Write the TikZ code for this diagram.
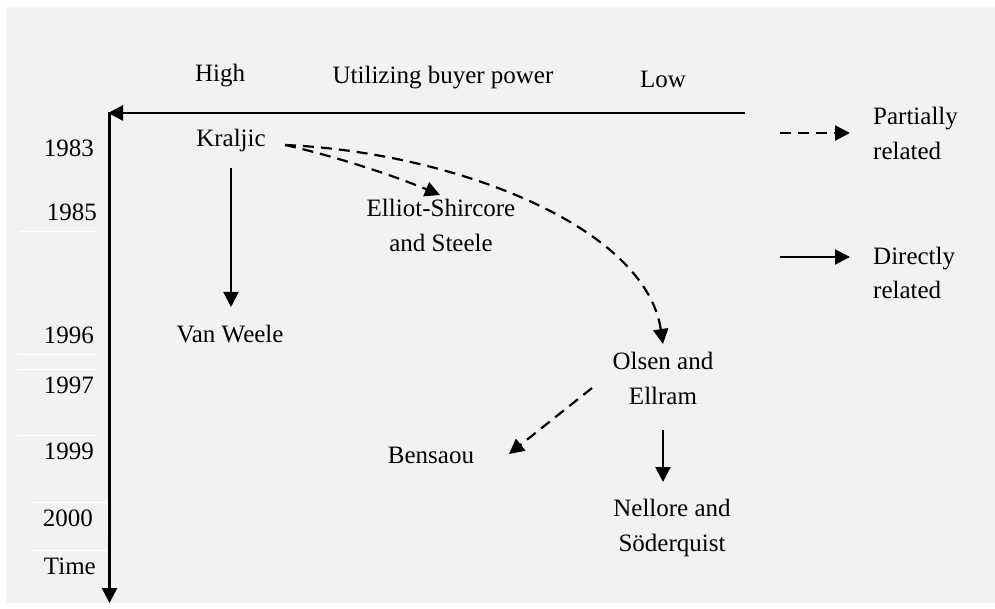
\documentclass[tikz,border=0pt]{standalone}
\usepackage{fontspec}
\setmainfont{Liberation Serif}
\usetikzlibrary{arrows.meta,calc}
\definecolor{panel}{RGB}{242,242,242}
\begin{document}
\begin{tikzpicture}[x=1pt,y=-1pt,
  txt/.style={font=\fontsize{25}{35}\selectfont, inner sep=0pt, align=center},
  yr/.style={txt, anchor=east},
  axis/.style={line width=2.7pt, -{Triangle[length=15pt,width=15pt]}},
  direct/.style={line width=2pt, -{Triangle[length=15pt,width=15pt]}},
  partial/.style={line width=2.2pt, dash pattern=on 11pt off 7pt, -{Triangle[length=15pt,width=15pt]}},
  rule/.style={white, line width=1pt}]
\useasboundingbox (0,0) rectangle (995,609);
\fill[panel] (6,7) rectangle (995,603);

% faint cell borders around the year column
\draw[rule] (20,232) -- (98,232);
\draw[rule] (18,354) -- (96,354);
\draw[rule] (18,369) -- (96,369);
\draw[rule] (18,435) -- (96,435);
\draw[rule] (30,502) -- (107,502) -- (107,537);
\draw[rule] (31,550) -- (108,550);

% axes
\coordinate (org) at (109.5,113);
\coordinate (xe) at (745,113);
\coordinate (ye) at (109.5,603);
\draw[axis] (xe) -- ($(org)+(-1.5,0)$);
\draw[axis] ($(org)+(0,-1.3)$) -- (ye);

% axis labels
\node[txt] (high) at (220,75) {\strut High};
\node[txt] (ubp) at (443,77) {\strut Utilizing buyer power};
\node[txt] (low) at (663,81) {\strut Low};

% years
\node[yr] (y83) at (94,150) {\strut 1983};
\node[yr] (y85) at (97,214) {\strut 1985};
\node[yr] (y96) at (94,336) {\strut 1996};
\node[yr] (y97) at (94,386) {\strut 1997};
\node[yr] (y99) at (94,452) {\strut 1999};
\node[yr] (y00) at (93,519) {\strut 2000};
\node[yr] (time) at (96,567) {\strut Time};

% authors
\node[txt] (kra) at (231,140) {\strut Kraljic};
\node[txt] (ell) at (441,227.5) {\strut Elliot-Shircore\\\strut and Steele};
\node[txt] (vw) at (230,335) {\strut Van Weele};
\node[txt] (ols) at (663,379.5) {\strut Olsen and\\\strut Ellram};
\node[txt] (ben) at (431,456) {\strut Bensaou};
\node[txt] (nel) at (672,526.5) {\strut Nellore and\\\strut Söderquist};

% legend
\node[txt, anchor=west, align=left] (part) at (873,135) {\strut Partially\\\strut related};
\node[txt, anchor=west, align=left] (dir) at (873,274.5) {\strut Directly\\\strut related};
\coordinate (pa) at (780,133);
\coordinate (da) at (780,257);
\draw[partial] (pa) -- ($(part.west)+(-23,-2)$);
\draw[direct] (da) -- ($(dir.west)+(-23,-17.5)$);

% relations
\draw[direct] ($(kra.center)+(0,28)$) -- ($(kra.center |- vw.center)+(0,-28)$);
\draw[partial] ($(kra.center)+(54,5)$) .. controls (330,155) and (390,174) .. ($(ell.center)+(-1,-32.5)$);
\draw[partial] ($(kra.center)+(54,5)$) .. controls (450,152) and (645,225) .. ($(ols.center)+(0,-35.5)$);
\draw[partial] ($(ols.center)+(-71,8.5)$) -- ($(ben.center)+(78,-2)$);
\draw[direct] ($(ols.center)+(0,50.5)$) -- ($(ols.center |- nel.center)+(0,-44.5)$);
\end{tikzpicture}
\end{document}
